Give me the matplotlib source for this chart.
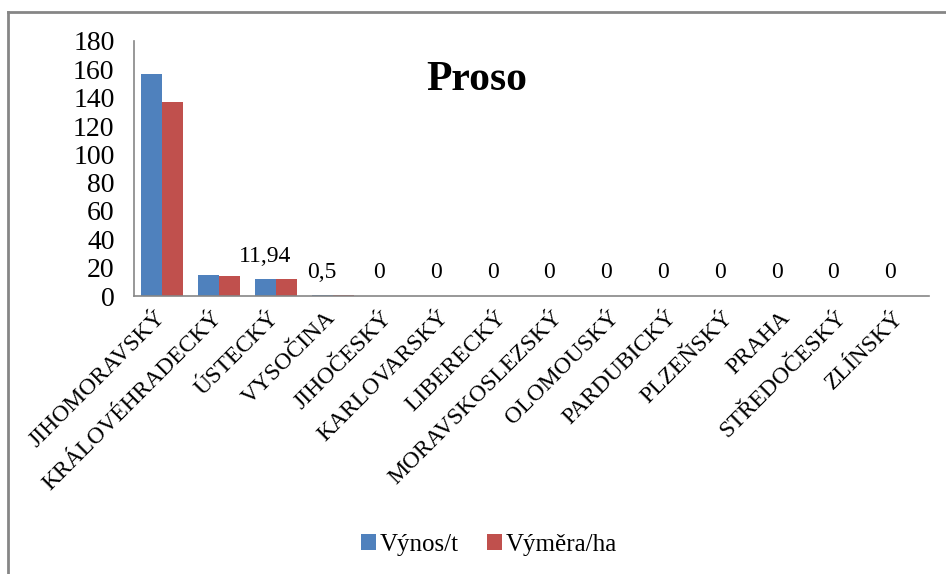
import numpy as np
import matplotlib.pyplot as plt
import matplotlib.transforms as mtransforms
from matplotlib.lines import Line2D

plt.rcParams['font.family'] = ['Liberation Serif', 'DejaVu Serif']

kraje = ['JIHOMORAVSKÝ', 'KRÁLOVÉHRADECKÝ', 'ÚSTECKÝ', 'VYSOČINA', 'JIHOČESKÝ',
         'KARLOVARSKÝ', 'LIBERECKÝ', 'MORAVSKOSLEZSKÝ', 'OLOMOUSKÝ', 'PARDUBICKÝ',
         'PLZEŇSKÝ', 'PRAHA', 'STŘEDOČESKÝ', 'ZLÍNSKÝ']
vynos = [157, 15, 11.94, 0.5, 0, 0, 0, 0, 0, 0, 0, 0, 0, 0]
vymera = [137, 14, 12, 0.5, 0, 0, 0, 0, 0, 0, 0, 0, 0, 0]
yticks = [0, 20, 40, 60, 80, 100, 120, 140, 160, 180]

modra = '#4F81BD'
cervena = '#C0504D'
seda = '#868686'

fig = plt.figure(figsize=(9.46, 5.74), dpi=100)
ax = fig.add_axes([134 / 946, 1 - 296 / 574, (929 - 134) / 946, (296 - 41) / 574])

x = np.arange(len(kraje))
w = 0.37
b1 = ax.bar(x - w / 2, vynos, w, color=modra, label='Výnos/t')
b2 = ax.bar(x + w / 2, vymera, w, color=cervena, label='Výměra/ha')

# popisky hodnot jen od třetího kraje
for i in range(2, len(kraje)):
    txt = ('%g' % vynos[i]).replace('.', ',')
    ax.annotate(txt, (x[i] - w / 2, vynos[i]), xytext=(0, 9),
                textcoords='offset points', ha='center', va='bottom', fontsize=17)

ax.set_xlim(-0.5, len(kraje) - 0.5)
ax.set_ylim(0, 180)
ax.set_yticks(yticks)
ax.set_xticks(x)
ax.set_xticklabels(kraje, rotation=45, ha='right', fontsize=17)
ax.tick_params(axis='y', length=0, pad=14, labelsize=20)
ax.tick_params(axis='x', length=0, pad=8)

# posun šikmých popisků trochu doprava
posun = mtransforms.ScaledTranslation(7 / 100, 0, fig.dpi_scale_trans)
for lbl in ax.get_xticklabels():
    lbl.set_transform(lbl.get_transform() + posun)

for s in ['top', 'right']:
    ax.spines[s].set_visible(False)
for s in ['left', 'bottom']:
    ax.spines[s].set_color(seda)
    ax.spines[s].set_linewidth(1.2)

fig.text(477 / 946, 1 - 80 / 574, 'Proso', ha='center', va='center',
         fontsize=30, fontweight='bold')

fig.legend(handles=[b1, b2], loc='center', bbox_to_anchor=(489 / 946, 1 - 545 / 574),
           ncol=2, frameon=False, fontsize=18, handlelength=0.6, handleheight=0.6,
           handletextpad=0.15, columnspacing=1.1)

# rámeček grafu
fig.add_artist(Line2D([8 / 946, 8 / 946], [0, 1 - 12 / 574], color=seda, lw=2,
                      transform=fig.transFigure))
fig.add_artist(Line2D([8 / 946, 1], [1 - 12 / 574, 1 - 12 / 574], color=seda, lw=2,
                      transform=fig.transFigure))

fig.savefig('out.png', dpi=100)
